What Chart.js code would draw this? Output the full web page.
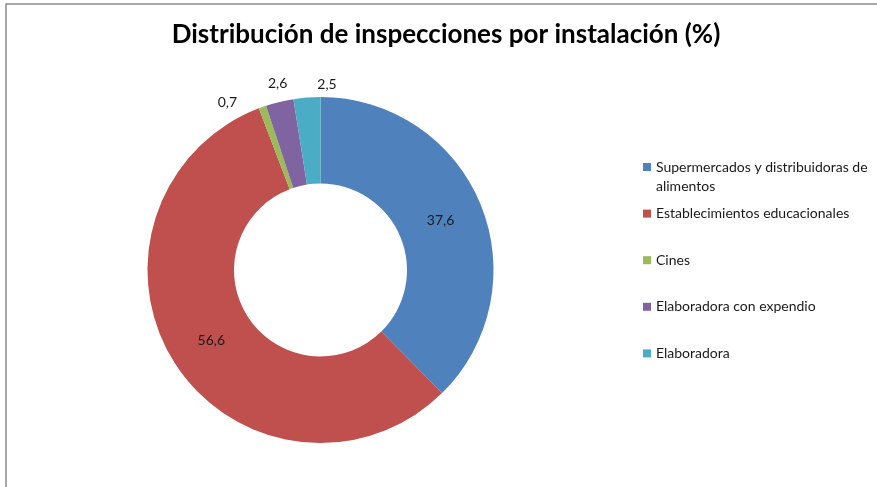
<!DOCTYPE html>
<html>
<head>
<meta charset="utf-8">
<script src="https://cdn.jsdelivr.net/npm/chart.js@4"></script>
<style>
  html, body { margin: 0; padding: 0; background: #ffffff; }
  #wrap { position: relative; width: 877px; height: 487px; }
  canvas { display: block; }
</style>
</head>
<body>
<div id="wrap"><canvas id="c" width="877" height="487"></canvas></div>
<script>
const titleText = "Distribución de inspecciones por instalación (%)";
const categories = [
  "Supermercados y distribuidoras de alimentos",
  "Establecimientos educacionales",
  "Cines",
  "Elaboradora con expendio",
  "Elaboradora"
];
const values = [37.6, 56.6, 0.7, 2.6, 2.5];
const valueLabels = ["37,6", "56,6", "0,7", "2,6", "2,5"];
const colors = ["#4F81BD", "#C0504D", "#9BBB59", "#8064A2", "#4BACC6"];

const FONT = "Lato, 'Open Sans', sans-serif";

const framePlugin = {
  id: 'frame',
  beforeDraw(chart) {
    const ctx = chart.ctx;
    ctx.save();
    ctx.fillStyle = '#ffffff';
    ctx.fillRect(0, 0, chart.width, chart.height);
    ctx.strokeStyle = '#8c8c8c';
    ctx.lineWidth = 1.5;
    ctx.beginPath();
    ctx.moveTo(6, chart.height);
    ctx.lineTo(6, 4);
    ctx.lineTo(chart.width, 4);
    ctx.stroke();
    ctx.restore();
  }
};

const titlePlugin = {
  id: 'customTitle',
  afterDraw(chart, args, opts) {
    const ctx = chart.ctx;
    ctx.save();
    ctx.font = 'bold ' + opts.size + 'px ' + FONT;
    ctx.fillStyle = '#000000';
    ctx.textAlign = 'center';
    ctx.textBaseline = 'alphabetic';
    ctx.fillText(opts.text, opts.x, opts.y);
    ctx.restore();
  }
};

const sliceLabelPlugin = {
  id: 'sliceLabels',
  afterDatasetsDraw(chart, args, opts) {
    const ctx = chart.ctx;
    const meta = chart.getDatasetMeta(0);
    ctx.save();
    ctx.font = opts.size + 'px ' + FONT;
    ctx.fillStyle = '#1a1a1a';
    ctx.textAlign = 'center';
    ctx.textBaseline = 'middle';
    meta.data.forEach((arc, i) => {
      const p = arc.getProps(['x', 'y', 'startAngle', 'endAngle', 'innerRadius', 'outerRadius'], true);
      let mid = (p.startAngle + p.endAngle) / 2;
      let r;
      const v = chart.data.datasets[0].data[i];
      if (v >= opts.insideMin) {
        r = (p.innerRadius + p.outerRadius) / 2;
      } else {
        r = p.outerRadius + opts.outsideGap[i];
        mid += (opts.angleShift[i] || 0) * Math.PI / 180;
      }
      ctx.fillText(valueLabels[i], p.x + r * Math.cos(mid), p.y + r * Math.sin(mid));
    });
    ctx.restore();
  }
};

function wrapText(ctx, text, maxW) {
  const words = text.split(' ');
  const lines = [];
  let cur = '';
  words.forEach(w => {
    const t = cur ? cur + ' ' + w : w;
    if (ctx.measureText(t).width > maxW && cur) { lines.push(cur); cur = w; }
    else cur = t;
  });
  if (cur) lines.push(cur);
  return lines;
}

const sideLegendPlugin = {
  id: 'sideLegend',
  afterDraw(chart, args, opts) {
    const ctx = chart.ctx;
    ctx.save();
    ctx.font = opts.size + 'px ' + FONT;
    ctx.textBaseline = 'middle';
    ctx.textAlign = 'left';
    chart.data.labels.forEach((lab, i) => {
      const y = opts.y + i * opts.step;
      ctx.fillStyle = colors[i];
      ctx.fillRect(opts.x, y - opts.box / 2, opts.box, opts.box);
      ctx.fillStyle = '#1a1a1a';
      const lines = wrapText(ctx, lab, opts.maxWidth);
      lines.forEach((ln, k) => ctx.fillText(ln, opts.x + opts.textGap, y + k * opts.lineH));
    });
    ctx.restore();
  }
};

new Chart(document.getElementById('c'), {
  type: 'doughnut',
  data: {
    labels: categories,
    datasets: [{
      data: values,
      backgroundColor: colors,
      borderWidth: 0
    }]
  },
  options: {
    responsive: false,
    animation: false,
    devicePixelRatio: 1,
    cutout: '50%',
    layout: { padding: { left: 147, right: 383, top: 97, bottom: 44 } },
    plugins: {
      legend: { display: false },
      title: { display: false },
      tooltip: { enabled: false },
      customTitle: { text: titleText, x: 446, y: 43, size: 26 },
      sliceLabels: { size: 14, insideMin: 5, outsideGap: [0, 0, 19, 18, 13], angleShift: [0, 0, -9.4, 0.7, 6.5] },
      sideLegend: { x: 643, y: 167, step: 46.6, box: 8, textGap: 13, size: 14, lineH: 19, maxWidth: 222 }
    }
  },
  plugins: [framePlugin, sliceLabelPlugin, titlePlugin, sideLegendPlugin]
});
</script>
</body>
</html>
